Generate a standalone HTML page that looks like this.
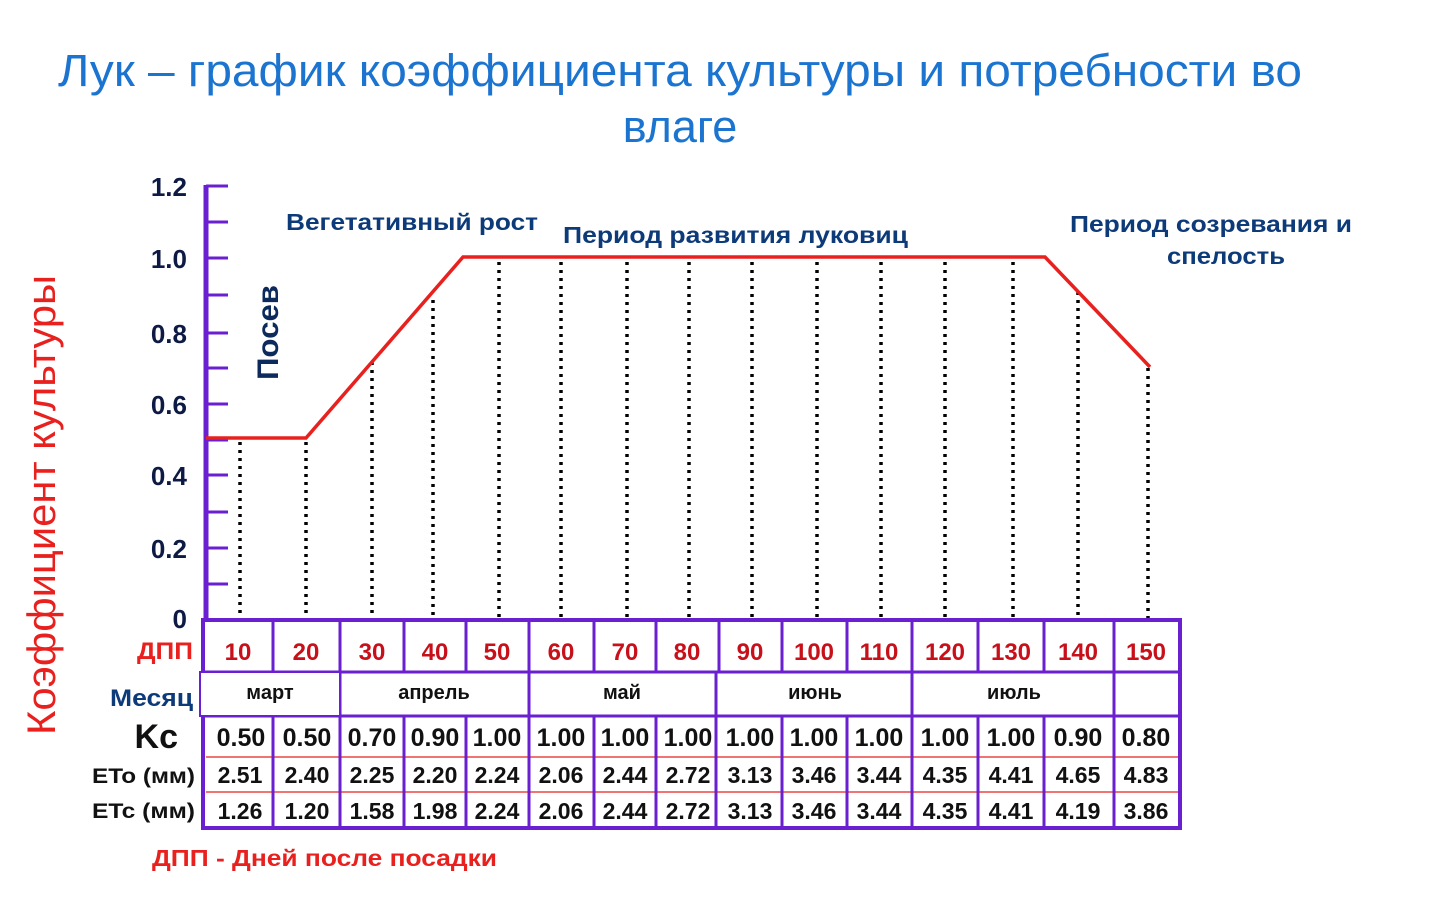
<!DOCTYPE html>
<html><head><meta charset="utf-8"><style>
body{margin:0;background:#fff;}
svg{display:block;font-family:"Liberation Sans",sans-serif;}
</style></head><body>
<svg width="1430" height="899" viewBox="0 0 1430 899">
<text x="58" y="86" font-size="45" fill="#1b74d0" textLength="1244" lengthAdjust="spacingAndGlyphs">Лук – график коэффициента культуры и потребности во</text>
<text x="680" y="142" text-anchor="middle" font-size="45" fill="#1b74d0">влаге</text>
<text transform="translate(55,735) rotate(-90)" font-size="40" fill="#e8201e" textLength="460" lengthAdjust="spacingAndGlyphs">Коэффициент культуры</text>
<g font-size="26" font-weight="bold" fill="#0d1a44" text-anchor="end">
<text x="187" y="196">1.2</text><text x="187" y="268">1.0</text><text x="187" y="343">0.8</text>
<text x="187" y="414">0.6</text><text x="187" y="485">0.4</text><text x="187" y="558">0.2</text><text x="187" y="628">0</text>
</g>
<g stroke="#6a1fd0" stroke-width="3">
<line x1="206" y1="185" x2="206" y2="622" stroke-width="5"/>
<line x1="206" y1="186" x2="228" y2="186"/><line x1="206" y1="222" x2="228" y2="222"/>
<line x1="206" y1="258" x2="228" y2="258"/><line x1="206" y1="295" x2="228" y2="295"/>
<line x1="206" y1="333" x2="228" y2="333"/><line x1="206" y1="368" x2="228" y2="368"/>
<line x1="206" y1="404" x2="228" y2="404"/><line x1="206" y1="440" x2="228" y2="440"/>
<line x1="206" y1="475" x2="228" y2="475"/><line x1="206" y1="512" x2="228" y2="512"/>
<line x1="206" y1="548" x2="228" y2="548"/><line x1="206" y1="584" x2="228" y2="584"/>
</g>
<g stroke="#000" stroke-width="3.5" stroke-dasharray="3,5">
<line x1="240" y1="442" x2="240" y2="618"/><line x1="306" y1="442" x2="306" y2="618"/>
<line x1="372" y1="362" x2="372" y2="618"/><line x1="433" y1="300" x2="433" y2="618"/>
<line x1="499" y1="262" x2="499" y2="618"/><line x1="561" y1="262" x2="561" y2="618"/>
<line x1="627" y1="262" x2="627" y2="618"/><line x1="689" y1="262" x2="689" y2="618"/>
<line x1="752" y1="262" x2="752" y2="618"/><line x1="817" y1="262" x2="817" y2="618"/>
<line x1="881" y1="262" x2="881" y2="618"/><line x1="945" y1="262" x2="945" y2="618"/>
<line x1="1013" y1="262" x2="1013" y2="618"/><line x1="1078" y1="292" x2="1078" y2="618"/>
<line x1="1148" y1="368" x2="1148" y2="618"/>
</g>
<polyline points="206,438 306,438 463,257 1045,257 1150,367" fill="none" stroke="#e8201e" stroke-width="3.5"/>
<text transform="translate(278,380) rotate(-90)" font-size="30" font-weight="bold" fill="#0d2a5c" textLength="95" lengthAdjust="spacingAndGlyphs">Посев</text>
<g font-size="23" font-weight="bold" fill="#0d3a78">
<text x="286" y="230" textLength="252" lengthAdjust="spacingAndGlyphs">Вегетативный рост</text>
<text x="563" y="243" textLength="345" lengthAdjust="spacingAndGlyphs">Период развития луковиц</text>
<text x="1070" y="232" textLength="282" lengthAdjust="spacingAndGlyphs">Период созревания и</text>
<text x="1167" y="264" textLength="118" lengthAdjust="spacingAndGlyphs">спелость</text>
</g>
<rect x="203" y="620" width="977" height="208" fill="#fff" stroke="#6a1fd0" stroke-width="4"/>
<g stroke="#6a1fd0" stroke-width="3">
<line x1="203" y1="672" x2="1180" y2="672"/><line x1="203" y1="716" x2="1180" y2="716"/>
</g>
<g stroke="#e8201e" stroke-width="1.2"><line x1="206" y1="757" x2="1178" y2="757"/><line x1="206" y1="792" x2="1178" y2="792"/></g>
<g stroke="#6a1fd0" stroke-width="3">
<line x1="273" y1="620" x2="273" y2="672"/><line x1="273" y1="716" x2="273" y2="828"/>
<line x1="340" y1="620" x2="340" y2="828"/>
<line x1="404" y1="620" x2="404" y2="672"/><line x1="404" y1="716" x2="404" y2="828"/>
<line x1="466" y1="620" x2="466" y2="672"/><line x1="466" y1="716" x2="466" y2="828"/>
<line x1="529" y1="620" x2="529" y2="828"/>
<line x1="594" y1="620" x2="594" y2="672"/><line x1="594" y1="716" x2="594" y2="828"/>
<line x1="656" y1="620" x2="656" y2="672"/><line x1="656" y1="716" x2="656" y2="828"/>
<line x1="719" y1="620" x2="719" y2="672"/><line x1="716" y1="672" x2="716" y2="828"/>
<line x1="782" y1="620" x2="782" y2="672"/><line x1="782" y1="716" x2="782" y2="828"/>
<line x1="847" y1="620" x2="847" y2="672"/><line x1="847" y1="716" x2="847" y2="828"/>
<line x1="912" y1="620" x2="912" y2="828"/>
<line x1="978" y1="620" x2="978" y2="672"/><line x1="978" y1="716" x2="978" y2="828"/>
<line x1="1044" y1="620" x2="1044" y2="672"/><line x1="1044" y1="716" x2="1044" y2="828"/>
<line x1="1114" y1="620" x2="1114" y2="828"/>
</g>
<rect x="200" y="672" width="140" height="44" fill="#fff" stroke="#6a1fd0" stroke-width="2"/>
<g font-size="24" font-weight="bold" fill="#c8101a" text-anchor="middle">
<text x="238" y="660">10</text><text x="306" y="660">20</text><text x="372" y="660">30</text><text x="435" y="660">40</text>
<text x="497" y="660">50</text><text x="561" y="660">60</text><text x="625" y="660">70</text><text x="687" y="660">80</text>
<text x="750" y="660">90</text><text x="814" y="660">100</text><text x="879" y="660">110</text><text x="945" y="660">120</text>
<text x="1011" y="660">130</text><text x="1078" y="660">140</text><text x="1146" y="660">150</text>
</g>
<g font-size="20" font-weight="bold" fill="#111" text-anchor="middle">
<text x="270" y="699">март</text><text x="434" y="699">апрель</text><text x="622" y="699">май</text>
<text x="815" y="699">июнь</text><text x="1014" y="699">июль</text>
</g>
<g font-size="25" font-weight="bold" fill="#111" text-anchor="middle">
<text x="241" y="746">0.50</text><text x="307" y="746">0.50</text><text x="372" y="746">0.70</text><text x="435" y="746">0.90</text>
<text x="497" y="746">1.00</text><text x="561" y="746">1.00</text><text x="625" y="746">1.00</text><text x="688" y="746">1.00</text>
<text x="750" y="746">1.00</text><text x="814" y="746">1.00</text><text x="879" y="746">1.00</text><text x="945" y="746">1.00</text>
<text x="1011" y="746">1.00</text><text x="1078" y="746">0.90</text><text x="1146" y="746">0.80</text>
</g>
<g font-size="23" font-weight="bold" fill="#111" text-anchor="middle">
<text x="240" y="783">2.51</text><text x="307" y="783">2.40</text><text x="372" y="783">2.25</text><text x="435" y="783">2.20</text>
<text x="497" y="783">2.24</text><text x="561" y="783">2.06</text><text x="625" y="783">2.44</text><text x="688" y="783">2.72</text>
<text x="750" y="783">3.13</text><text x="814" y="783">3.46</text><text x="879" y="783">3.44</text><text x="945" y="783">4.35</text>
<text x="1011" y="783">4.41</text><text x="1078" y="783">4.65</text><text x="1146" y="783">4.83</text>
<text x="240" y="819">1.26</text><text x="307" y="819">1.20</text><text x="372" y="819">1.58</text><text x="435" y="819">1.98</text>
<text x="497" y="819">2.24</text><text x="561" y="819">2.06</text><text x="625" y="819">2.44</text><text x="688" y="819">2.72</text>
<text x="750" y="819">3.13</text><text x="814" y="819">3.46</text><text x="879" y="819">3.44</text><text x="945" y="819">4.35</text>
<text x="1011" y="819">4.41</text><text x="1078" y="819">4.19</text><text x="1146" y="819">3.86</text>
</g>
<text x="137" y="659" font-size="24" font-weight="bold" fill="#e8201e" textLength="56" lengthAdjust="spacingAndGlyphs">ДПП</text>
<text x="110" y="706" font-size="24" font-weight="bold" fill="#0d3a78" textLength="83" lengthAdjust="spacingAndGlyphs">Месяц</text>
<text x="178" y="748" text-anchor="end" font-size="34" font-weight="bold" fill="#111">Kc</text>
<text x="92" y="783" font-size="21" font-weight="bold" fill="#111" textLength="103" lengthAdjust="spacingAndGlyphs">ETo (мм)</text>
<text x="92" y="818" font-size="21" font-weight="bold" fill="#111" textLength="103" lengthAdjust="spacingAndGlyphs">ETc (мм)</text>
<text x="152" y="866" font-size="23" font-weight="bold" fill="#e8201e" textLength="345" lengthAdjust="spacingAndGlyphs">ДПП - Дней после посадки</text>
</svg>
</body></html>
